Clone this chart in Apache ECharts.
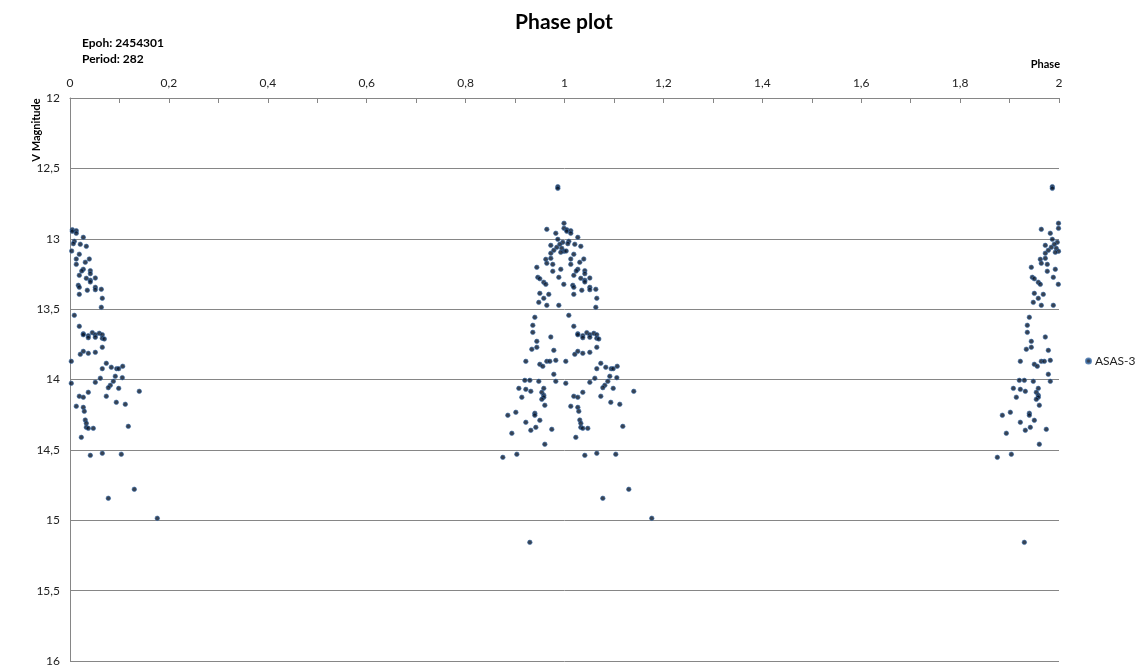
<!DOCTYPE html>
<html><head><meta charset="utf-8">
<script src="https://cdn.jsdelivr.net/npm/echarts@6/dist/echarts.min.js"></script>
<style>html,body{margin:0;padding:0;background:#fff}#c{width:1140px;height:671px}</style>
</head><body><div id="c"></div>
<script>
// Observations with phase in [0, 0.18]
const phaseEarly = [0.0047,0.0047,0.0127,0.0127,0.0269,0.0087,0.0067,0.0208,0.0330,0.0034,0.0188,0.0127,0.0390,0.0309,0.0127,0.0269,0.0237,0.0411,0.0411,0.0188,0.0330,0.0411,0.0411,0.0512,0.0168,0.0188,0.0512,0.0512,0.0633,0.0350,0.0188,0.0653,0.0633,0.0087,0.0188,0.0269,0.0269,0.0370,0.0370,0.0451,0.0512,0.0512,0.0593,0.0653,0.0653,0.0694,0.0653,0.0269,0.0208,0.0370,0.0512,0.0026,0.0734,0.0653,0.0835,0.0944,0.0985,0.1066,0.0916,0.1058,0.0613,0.0512,0.0026,0.0876,0.0815,0.0775,0.0985,0.1401,0.0370,0.0188,0.0269,0.0734,0.0936,0.1118,0.0127,0.0269,0.0289,0.0309,0.0330,0.0330,0.0370,0.0471,0.1179,0.0229,0.0411,0.0653,0.1037,0.1300,0.0775,0.1765];
const magEarly = [12.936,12.947,12.943,12.961,12.990,13.018,13.035,13.039,13.054,13.087,13.110,13.144,13.144,13.167,13.182,13.217,13.229,13.227,13.248,13.260,13.281,13.295,13.307,13.279,13.331,13.345,13.345,13.362,13.359,13.366,13.395,13.423,13.487,13.544,13.622,13.675,13.682,13.689,13.703,13.667,13.682,13.700,13.672,13.682,13.707,13.712,13.771,13.800,13.821,13.814,13.807,13.871,13.885,13.923,13.913,13.923,13.923,13.906,13.977,13.987,13.991,14.020,14.027,14.013,14.041,14.058,14.063,14.084,14.091,14.119,14.126,14.119,14.162,14.176,14.190,14.198,14.226,14.288,14.311,14.340,14.347,14.347,14.333,14.411,14.539,14.524,14.531,14.780,14.844,14.986];
// Observations with phase in [0.87, 1.0)
const phaseLate = [0.9865,0.9865,0.999,0.999,0.9642,0.9824,0.9865,0.9965,0.9723,0.9905,0.9844,0.9945,0.9784,0.999,0.9925,0.9723,0.9622,0.9723,0.9642,0.9763,0.9440,0.9925,0.9763,0.9460,0.9501,0.9885,0.9581,0.9622,0.9986,0.9501,0.9682,0.9581,0.9480,0.9642,0.9885,0.9400,0.9359,0.9359,0.9723,0.9440,0.9440,0.9339,0.9784,0.9218,0.9501,0.9561,0.9642,0.9703,0.9824,0.9784,0.9824,0.9198,0.9299,0.9480,0.9077,0.9218,0.9319,0.9581,0.9541,0.9581,0.9581,0.9541,0.9137,0.9602,0.8854,0.9016,0.9400,0.9400,0.9501,0.9218,0.9420,0.9319,0.9743,0.8935,0.9602,0.8753,0.9036,0.9299];
const magLate = [12.630,12.642,12.890,12.926,12.933,12.961,13.004,13.025,13.047,13.039,13.061,13.068,13.082,13.089,13.096,13.103,13.146,13.139,13.174,13.182,13.203,13.217,13.231,13.274,13.284,13.274,13.309,13.324,13.324,13.388,13.395,13.423,13.452,13.473,13.473,13.558,13.615,13.665,13.698,13.729,13.771,13.785,13.793,13.871,13.892,13.906,13.871,13.871,13.864,13.963,14.013,14.006,14.006,14.013,14.063,14.070,14.084,14.063,14.091,14.112,14.126,14.141,14.126,14.183,14.254,14.233,14.240,14.254,14.290,14.304,14.340,14.361,14.354,14.382,14.460,14.553,14.531,15.157];
const xTicks = {min: 0, max: 2, step: 0.2};
const yTicks = {min: 12, max: 16, step: 0.5};
const seriesName = 'ASAS-3';
const titleText = 'Phase plot';
const infoLines = ['Epoh: 2454301', 'Period: 282'];

// Phase plot: each observation drawn at its phase and one cycle later
const phases = phaseEarly.concat(phaseLate);
const mags = magEarly.concat(magLate);
const data = [];
for (let cycle = 0; cycle < 2; cycle++) {
  phases.forEach((p, i) => data.push([p + cycle, mags[i]]));
}

const fontFam = 'Lato, "Open Sans", sans-serif';
const comma = v => String(+v.toFixed(2)).replace('.', ',');
const chart = echarts.init(document.getElementById('c'), null, {renderer: 'canvas'});
chart.setOption({
  animation: false,
  backgroundColor: '#fff',
  textStyle: {fontFamily: fontFam},
  grid: {left: 70, right: 81, top: 98, bottom: 10, containLabel: false},
  xAxis: {
    type: 'value', position: 'top', min: xTicks.min, max: xTicks.max, interval: xTicks.step,
    axisLine: {show: true, lineStyle: {color: '#868686', width: 1}},
    axisTick: {show: true, inside: true, length: 5, lineStyle: {color: '#868686'}},
    minorTick: {show: true, splitNumber: 2, length: 5, lineStyle: {color: '#868686'}},
    axisLabel: {formatter: comma, color: '#222', fontSize: 12, margin: 9, fontFamily: fontFam},
    splitLine: {show: false}
  },
  yAxis: {
    type: 'value', inverse: true, min: yTicks.min, max: yTicks.max, interval: yTicks.step,
    axisLine: {show: true, lineStyle: {color: '#868686', width: 1}},
    axisTick: {show: false},
    axisLabel: {formatter: comma, color: '#222', fontSize: 12, margin: 10, fontFamily: fontFam},
    splitLine: {show: true, lineStyle: {color: '#868686', width: 1}}
  },
  legend: {
    show: true, orient: 'vertical', left: 1080, top: 350, icon: 'circle',
    itemWidth: 5, itemHeight: 5, itemGap: 5,
    textStyle: {fontSize: 12, color: '#222', fontFamily: fontFam, padding: [0, 0, 0, -1]},
    data: [seriesName]
  },
  series: [{
    name: seriesName, type: 'scatter', data: data, symbol: 'circle', symbolSize: 4.5,
    itemStyle: {color: '#061428', borderColor: '#3d6ea8', borderWidth: 0.8}
  }],
  graphic: [
    {type: 'text', x: 564, y: 22, style: {text: titleText, font: 'bold 21px ' + fontFam, fill: '#000', align: 'center', verticalAlign: 'middle'}},
    {type: 'text', x: 82, y: 43, style: {text: infoLines[0], font: 'bold 12px ' + fontFam, fill: '#000', align: 'left', verticalAlign: 'middle'}},
    {type: 'text', x: 82, y: 59, style: {text: infoLines[1], font: 'bold 12px ' + fontFam, fill: '#000', align: 'left', verticalAlign: 'middle'}},
    {type: 'text', x: 1060, y: 64, style: {text: 'Phase', font: 'bold 11px ' + fontFam, fill: '#000', align: 'right', verticalAlign: 'middle'}},
    {type: 'text', x: 36, y: 130, rotation: Math.PI / 2, style: {text: 'V Magnitude', font: 'bold 11px ' + fontFam, fill: '#000', align: 'center', verticalAlign: 'middle'}}
  ]
});
</script></body></html>
